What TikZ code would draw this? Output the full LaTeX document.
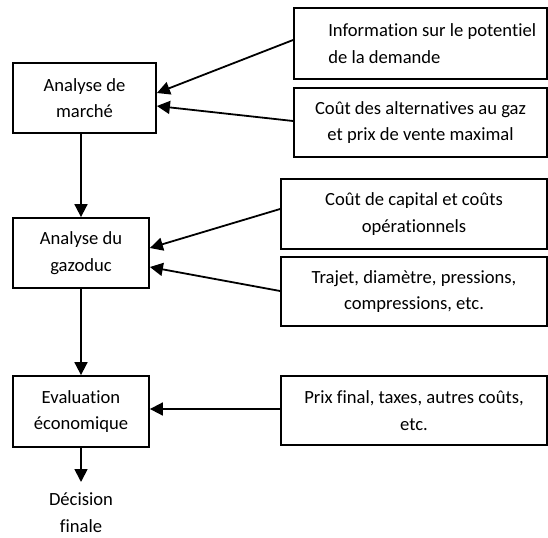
\documentclass[tikz,border=0pt]{standalone}
\usepackage{fontspec}
\setmainfont[Ligatures=NoCommon]{Carlito}
\usetikzlibrary{arrows.meta,calc}
\begin{document}
\begin{tikzpicture}[x=1bp,y=-1bp,
  box/.style={draw=black,line width=1.8bp,inner sep=0pt,align=center,
    font=\fontsize{18.6bp}{26.5bp}\selectfont},
  txt/.style={inner sep=0pt,font=\fontsize{18.6bp}{26.5bp}\selectfont},
  arr/.style={line width=1.8bp,-{Triangle[length=13bp,width=13bp]}}]
\useasboundingbox (0,0) rectangle (548,538);
% left column
\node[box,minimum width=143bp,minimum height=70bp] (mk) at (84.5,98) {Analyse de\\marché};
\node[box,minimum width=136bp,minimum height=70bp] (gz) at (81,253) {Analyse du\\gazoduc};
\node[box,minimum width=136bp,minimum height=71bp] (ev) at (81,411.5) {Evaluation\\économique};
\node[txt,align=center,anchor=base] (dec) at (81,532) {Décision\\finale};
\coordinate (dectip) at (81,482);
% right column
\node[box,minimum width=253bp,minimum height=71bp] (b1) at (420.5,43.5) {};
\node[txt,align=left,anchor=west] (b1t) at ([xshift=35bp]b1.west) {Information sur le potentiel\\de la demande};
\node[box,minimum width=253bp,minimum height=69bp] (b2) at (420.5,122.5) {Coût des alternatives au gaz\\et prix de vente maximal};
\node[box,minimum width=266bp,minimum height=70bp] (b3) at (414,214) {Coût de capital et coûts\\opérationnels};
\node[box,minimum width=266bp,minimum height=69bp] (b4) at (414,291.5) {Trajet, diamètre, pressions,\\compressions, etc.};
\node[box,minimum width=266bp,minimum height=69bp] (b5) at (414,410.5) {Prix final, taxes, autres coûts,\\etc.};
% connectors
\draw[arr] ([yshift=3.5bp]b1.west) -- ([yshift=5bp]mk.east);
\draw[arr] ([yshift=1.5bp]b2.west) -- ([yshift=-8bp]mk.east);
\draw[arr] ([yshift=5bp]b3.west) -- ([yshift=5bp]gz.east);
\draw[arr] ([yshift=0.5bp]b4.west) -- ([yshift=-14bp]gz.east);
\draw[arr] ([yshift=1.5bp]b5.west) -- ([yshift=1.5bp]ev.east |- b5.west);
\draw[arr] (mk.south -| gz.north) -- (gz.north);
\draw[arr] (gz.south) -- (ev.north);
\draw[arr] (ev.south) -- (dectip);
\end{tikzpicture}
\end{document}
